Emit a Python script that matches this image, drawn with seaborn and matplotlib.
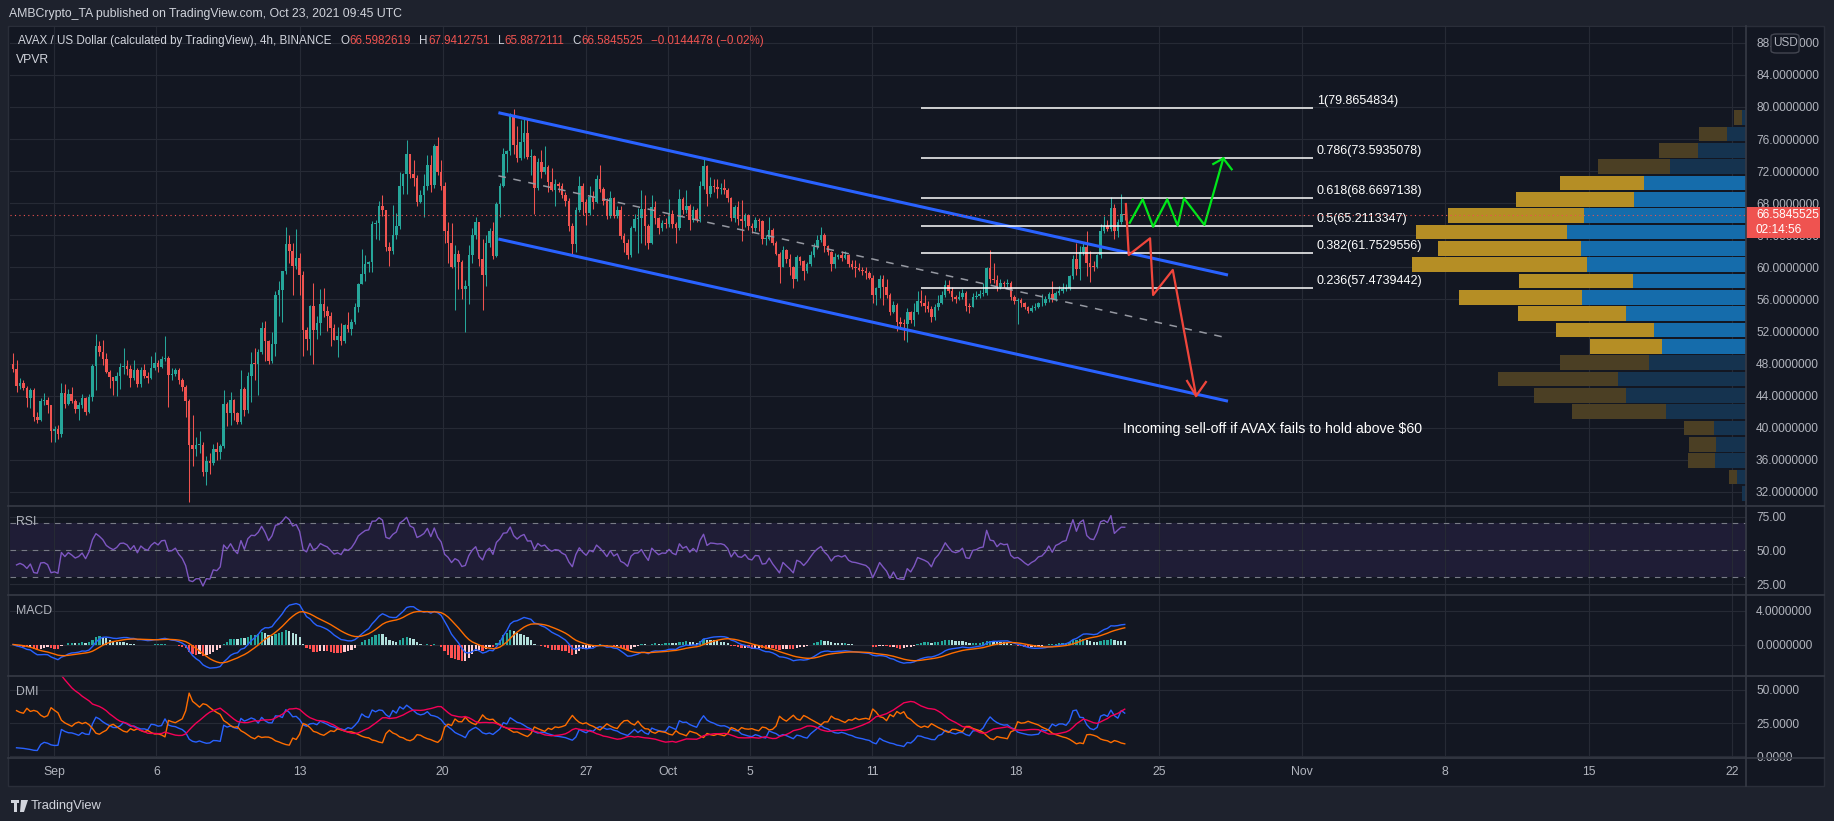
import numpy as np
import pandas as pd
import matplotlib
matplotlib.use('Agg')
import matplotlib.pyplot as plt
import seaborn as sns
from matplotlib import font_manager as fm
from matplotlib.patches import Rectangle, FancyBboxPatch, Polygon
from matplotlib.lines import Line2D

# ---------------- data (AVAX/USD 4h) ----------------
start_time = '2021-08-30 00:00'
last_time = '2021-10-23 08:00'
first_open = 48.0
close = [
    47.3, 45.2, 45.6, 45.0, 43.7, 44.7, 41.3, 41.0, 43.4, 43.5,
    42.8, 39.6, 39.8, 39.2, 44.4, 43.0, 44.2, 43.4, 42.4, 42.8,
    43.7, 42.0, 43.8, 47.7, 50.2, 49.5, 48.6, 47.0, 46.3, 45.8,
    46.4, 47.6, 47.7, 47.3, 46.2, 47.2, 45.5, 47.2, 46.5, 46.2,
    47.4, 48.1, 47.6, 48.6, 48.7, 46.6, 46.7, 47.2, 46.0, 45.1,
    43.3, 37.9, 37.4, 37.9, 37.9, 34.5, 35.8, 35.6, 37.3, 37.0,
    37.7, 43.0, 41.9, 43.5, 41.8, 40.7, 44.9, 42.2, 46.4, 48.0,
    47.9, 49.4, 52.5, 50.8, 48.3, 50.5, 56.5, 57.2, 59.5, 62.9,
    62.1, 60.2, 61.2, 59.1, 52.2, 51.1, 55.2, 52.2, 53.1, 55.4,
    54.6, 54.0, 52.5, 51.0, 51.5, 50.8, 52.8, 52.3, 53.2, 55.1,
    57.9, 59.2, 60.4, 60.7, 65.4, 65.5, 67.7, 67.1, 62.5, 62.1,
    64.0, 65.1, 70.1, 71.7, 74.1, 71.7, 71.2, 68.2, 69.0, 70.1,
    72.8, 70.3, 75.1, 71.9, 70.1, 64.6, 63.0, 60.1, 61.7, 60.7,
    57.3, 57.7, 61.5, 64.0, 65.6, 61.0, 59.0, 63.0, 64.5, 61.4,
    67.9, 70.2, 74.2, 74.5, 79.0, 75.2, 73.6, 75.6, 76.7, 73.8,
    73.9, 69.9, 73.2, 71.9, 72.5, 70.7, 69.7, 70.4, 70.2, 69.0,
    68.3, 65.2, 62.9, 67.2, 70.1, 68.2, 66.8, 68.8, 68.2, 71.0,
    69.8, 68.3, 66.4, 68.6, 66.4, 67.2, 63.9, 63.1, 61.5, 64.9,
    66.0, 66.1, 67.3, 65.1, 63.1, 67.5, 66.1, 64.9, 65.5, 65.4,
    66.7, 65.4, 64.9, 68.5, 67.1, 67.7, 65.9, 67.1, 66.0, 70.1,
    72.7, 69.1, 70.1, 70.0, 69.8, 69.9, 69.6, 68.6, 66.1, 67.5,
    66.0, 65.8, 66.5, 65.2, 64.9, 65.9, 65.8, 63.5, 63.6, 64.7,
    63.1, 61.7, 60.1, 62.2, 61.1, 60.0, 58.6, 61.3, 60.8, 59.6,
    60.4, 61.5, 62.6, 63.4, 64.0, 62.7, 61.9, 60.4, 61.3, 61.5,
    61.2, 61.5, 60.4, 60.0, 59.9, 59.7, 59.5, 59.3, 58.7, 56.5,
    57.4, 58.5, 57.5, 56.5, 54.4, 55.3, 53.2, 53.0, 52.9, 54.4,
    53.5, 54.4, 55.8, 55.5, 55.2, 54.8, 53.8, 55.0, 55.6, 56.5,
    57.8, 57.0, 56.3, 56.1, 56.3, 56.8, 55.2, 55.1, 56.3, 56.4,
    56.7, 56.8, 59.9, 58.5, 58.4, 57.5, 58.1, 57.9, 58.0, 56.3,
    55.8, 55.9, 55.5, 55.0, 54.6, 54.9, 55.1, 55.5, 55.6, 56.0,
    56.7, 56.0, 56.8, 57.0, 57.3, 57.4, 58.9, 61.0, 59.8, 61.9,
    62.6, 60.6, 60.1, 60.0, 61.5, 64.6, 65.1, 64.8, 67.4, 64.5,
    65.6, 66.6, 66.5845525,
]
high = [
    49.3, 48.4, 46.2, 46.0, 45.2, 45.0, 45.0, 42.0, 43.7, 44.4,
    43.9, 42.9, 40.2, 40.4, 45.6, 45.4, 44.8, 45.1, 43.6, 43.2,
    44.2, 43.9, 44.2, 47.9, 51.7, 50.8, 51.0, 49.3, 47.2, 46.3,
    46.9, 48.1, 49.9, 48.5, 47.8, 48.4, 47.4, 47.6, 48.0, 46.9,
    49.0, 49.4, 48.5, 49.0, 51.5, 48.9, 47.4, 47.5, 47.4, 46.2,
    45.3, 43.6, 41.6, 38.9, 39.6, 38.2, 36.5, 36.9, 38.0, 38.2,
    38.0, 44.7, 43.2, 44.5, 43.6, 42.0, 47.2, 45.1, 47.0, 49.4,
    50.0, 49.8, 53.2, 53.3, 51.0, 51.9, 57.1, 58.3, 59.6, 65.0,
    64.0, 63.1, 64.8, 61.8, 59.5, 52.6, 55.3, 58.0, 54.0, 57.3,
    57.4, 55.2, 54.4, 52.9, 52.6, 53.1, 52.9, 54.4, 53.6, 55.5,
    58.0, 62.3, 61.6, 60.8, 65.8, 65.9, 68.3, 69.0, 67.2, 63.2,
    67.8, 66.8, 71.9, 71.8, 75.9, 74.2, 73.4, 71.5, 69.6, 71.6,
    74.0, 74.0, 75.4, 76.3, 73.4, 70.6, 65.6, 65.5, 62.8, 62.2,
    60.9, 58.4, 62.8, 64.9, 66.3, 65.7, 63.5, 64.0, 64.9, 65.6,
    68.2, 70.5, 74.9, 74.7, 79.3, 79.7, 77.6, 78.4, 78.6, 78.6,
    74.8, 74.0, 73.6, 74.7, 75.1, 72.8, 72.4, 71.0, 70.6, 70.5,
    69.4, 68.6, 65.5, 67.5, 71.4, 70.5, 68.5, 70.2, 69.5, 71.5,
    72.8, 70.0, 68.6, 69.5, 68.8, 67.6, 67.6, 64.3, 63.6, 65.2,
    66.7, 67.4, 69.6, 69.0, 65.4, 69.0, 68.3, 66.3, 65.9, 66.1,
    68.5, 67.2, 65.6, 69.8, 68.8, 69.6, 67.9, 67.7, 67.4, 70.8,
    73.5, 72.8, 71.3, 71.0, 71.0, 70.5, 71.0, 69.9, 68.8, 67.8,
    68.3, 68.4, 66.8, 66.7, 65.5, 66.3, 66.2, 65.9, 64.0, 66.3,
    64.9, 63.3, 61.9, 62.7, 62.3, 61.7, 60.2, 61.6, 61.4, 60.9,
    60.7, 62.0, 63.0, 64.0, 65.0, 64.3, 62.8, 62.1, 61.8, 61.7,
    62.1, 62.1, 61.7, 60.9, 60.9, 60.6, 60.0, 60.0, 59.5, 59.1,
    57.6, 59.0, 59.0, 58.5, 56.8, 55.8, 55.5, 53.8, 53.6, 54.9,
    54.6, 55.6, 57.0, 57.2, 56.6, 55.8, 55.2, 55.4, 56.6, 57.1,
    58.4, 58.4, 57.6, 56.6, 57.1, 57.3, 57.0, 55.6, 56.8, 57.1,
    57.2, 58.1, 60.1, 62.2, 60.5, 59.0, 58.6, 58.3, 58.6, 58.3,
    56.6, 56.2, 56.2, 55.7, 55.2, 55.3, 55.5, 55.7, 56.7, 56.4,
    56.9, 58.3, 57.1, 57.7, 58.0, 57.9, 59.0, 61.5, 63.0, 62.7,
    63.1, 64.6, 62.1, 60.8, 61.7, 65.4, 66.4, 65.9, 68.75, 67.9,
    66.0, 69.2, 67.9412751,
]
low = [
    47.0, 44.5, 44.9, 44.7, 42.6, 42.5, 40.8, 40.6, 40.8, 42.8,
    41.8, 38.2, 38.2, 38.6, 38.9, 42.5, 42.8, 43.1, 41.9, 41.0,
    42.5, 41.6, 41.8, 43.4, 44.7, 49.0, 47.8, 46.8, 45.0, 44.1,
    44.0, 44.9, 46.7, 46.6, 45.1, 46.0, 45.1, 45.1, 46.2, 45.6,
    46.1, 47.2, 46.9, 47.4, 48.3, 42.6, 46.0, 46.5, 45.5, 44.6,
    41.3, 30.8, 35.2, 36.5, 36.8, 34.0, 32.9, 34.2, 35.4, 36.0,
    36.1, 37.5, 40.2, 40.4, 41.0, 40.5, 40.5, 41.5, 41.9, 43.2,
    46.0, 44.1, 49.2, 48.3, 47.9, 48.1, 49.0, 54.0, 53.2, 59.2,
    60.5, 56.5, 59.8, 56.5, 49.0, 49.7, 49.1, 47.9, 51.1, 51.6,
    53.8, 52.1, 50.2, 50.9, 48.8, 50.3, 50.6, 52.0, 51.6, 52.9,
    54.4, 58.0, 58.3, 59.4, 59.4, 63.5, 63.4, 66.4, 62.1, 60.2,
    61.7, 63.6, 64.8, 69.2, 69.2, 71.2, 70.1, 67.7, 68.0, 66.3,
    69.6, 69.4, 69.9, 71.5, 69.6, 63.1, 60.6, 59.9, 54.7, 57.3,
    56.1, 52.0, 55.4, 60.6, 63.6, 60.2, 54.7, 57.7, 62.5, 61.0,
    61.3, 66.3, 70.0, 71.9, 74.0, 74.1, 73.1, 73.4, 73.6, 73.5,
    71.5, 66.7, 69.6, 71.2, 71.6, 69.4, 69.5, 67.6, 69.4, 68.6,
    67.7, 64.6, 61.6, 61.9, 66.9, 66.5, 65.3, 66.5, 67.3, 68.0,
    69.4, 67.8, 66.0, 66.1, 66.1, 66.1, 63.6, 61.9, 61.1, 61.3,
    64.5, 61.8, 63.0, 62.8, 62.3, 62.9, 65.4, 64.2, 64.6, 64.9,
    65.0, 64.9, 63.0, 64.7, 66.6, 66.8, 64.7, 65.6, 65.6, 65.6,
    69.8, 67.6, 68.8, 69.4, 68.6, 69.2, 69.1, 68.1, 65.8, 65.7,
    65.3, 63.3, 65.0, 64.7, 64.3, 64.6, 64.5, 62.9, 62.8, 63.4,
    62.8, 61.6, 58.1, 60.0, 60.5, 59.0, 57.4, 58.3, 60.3, 58.4,
    59.3, 60.2, 61.3, 62.3, 63.2, 61.9, 61.6, 59.6, 59.9, 61.1,
    60.8, 61.0, 60.0, 59.8, 58.8, 59.5, 59.1, 58.6, 58.5, 55.5,
    55.3, 56.2, 55.3, 56.2, 54.1, 54.3, 52.1, 52.3, 51.0, 50.7,
    53.1, 52.7, 54.2, 55.2, 54.4, 54.5, 53.2, 53.5, 54.7, 55.4,
    56.3, 56.8, 55.8, 55.6, 55.9, 56.1, 54.6, 54.3, 55.5, 56.0,
    56.2, 56.4, 56.5, 58.1, 58.0, 57.1, 57.3, 57.5, 57.6, 55.9,
    55.4, 53.0, 55.1, 54.8, 54.3, 54.4, 54.7, 54.9, 55.2, 55.3,
    55.7, 55.7, 55.8, 56.5, 56.8, 57.0, 57.2, 58.6, 59.0, 58.4,
    61.5, 58.9, 58.2, 59.5, 59.9, 61.2, 64.3, 64.6, 64.6, 63.6,
    63.8, 65.4, 65.8872111,
]
last_price = 66.5845525

# Fibonacci retracement
fib_ratios = [1, 0.786, 0.618, 0.5, 0.382, 0.236]
fib_levels = [79.8654834, 73.5935078, 68.6697138, 65.2113347, 61.7529556, 57.4739442]
fib_span_days = [42.38, 61.53]           # days from Sep 1

# parallel channel (days from Sep 1, price)
channel_days = [21.72, 57.38]
channel_upper = [79.29, 59.05]
channel_lower = [63.54, 43.32]
channel_mid = [71.42, 51.19]

# scenario drawings (days from Sep 1, price)
green_days = [52.58, 53.21, 53.72, 54.41, 54.92, 55.23, 56.23, 57.15]
green_price = [65.57, 68.49, 65.07, 68.49, 65.20, 68.62, 65.29, 73.60]
green_head_days = [56.66, 57.15, 57.56]
green_head_price = [72.89, 73.60, 72.23]
red_days = [52.39, 52.53, 53.57, 53.72, 54.68, 55.82]
red_price = [67.90, 61.55, 63.63, 56.56, 59.68, 43.97]
red_head_days = [55.38, 55.82, 56.30]
red_head_price = [45.84, 43.97, 45.71]

# Visible range volume profile (24 rows, bottom -> top)
vp_up = [4, 9, 31, 30, 32, 80, 120, 128, 97, 84, 92, 120, 164, 113, 159, 165, 179, 162, 112, 102, 76, 48, 19, 4]
vp_down = [0, 8, 27, 27, 30, 94, 92, 120, 89, 72, 98, 108, 123, 114, 175, 143, 151, 136, 118, 84, 72, 39, 28, 8]
value_area = (9, 19)

date_ticks = ['2021-09-01', '2021-09-06', '2021-09-13', '2021-09-20', '2021-09-27', '2021-10-01',
              '2021-10-05', '2021-10-11', '2021-10-18', '2021-10-25', '2021-11-01', '2021-11-08',
              '2021-11-15', '2021-11-22']
date_labels = ['Sep', '6', '13', '20', '27', 'Oct', '5', '11', '18', '25', 'Nov', '8', '15', '22']
price_ticks = list(range(32, 89, 4))
rsi_ticks = [25, 50, 75]
macd_ticks = [0, 4]
dmi_ticks = [0, 25, 50]

# ---------------- styling ----------------
W, H = 1834, 821
BG = '#131722'
OUTER = '#1e222d'
GRID = '#262a35'
SEP = '#363a45'
TXT = '#b2b5be'
UPC = '#26a69a'
DNC = '#ef5350'

avail = {f.name for f in fm.fontManager.ttflist}
FONT = 'DejaVu Sans'
for cand in ['Liberation Sans Narrow', 'Liberation Sans', 'DejaVu Sans']:
    if cand in avail:
        FONT = cand
        break
plt.rcParams['font.family'] = [FONT, 'DejaVu Sans']

sep1 = pd.Timestamp('2021-09-01')
times = pd.date_range(start_time, last_time, periods=len(close))
t = ((times - sep1) / pd.Timedelta('1D')).values
tick_t = [((pd.Timestamp(d) - sep1) / pd.Timedelta('1D')) for d in date_ticks]

PXD = 20.46          # pixels per day
X0 = 54.0            # pixel of Sep 1
XL = (10 - X0) / PXD
XR = (1746 - X0) / PXD

c = np.array(close)
o = np.r_[first_open, c[:-1]]
hi = np.maximum(np.array(high), np.maximum(o, c))
lo = np.minimum(np.array(low), np.minimum(o, c))

fig = plt.figure(figsize=(W / 100, H / 100), dpi=100, facecolor=OUTER)
fig.add_artist(Rectangle((8 / W, 1 - 786 / H), (1824 - 8) / W, (786 - 26) / H,
                         transform=fig.transFigure, facecolor=BG, edgecolor='#2a2e39',
                         lw=1, zorder=-10))


def pane(y0, y1, ylim, yticks, ylabels):
    ax = fig.add_axes([10 / W, 1 - y1 / H, 1736 / W, (y1 - y0) / H])
    ax.set_facecolor(BG)
    for s in ax.spines.values():
        s.set_visible(False)
    ax.set_xticks(tick_t)
    ax.set_xticklabels([])
    ax.yaxis.tick_right()
    ax.set_yticks(yticks)
    ax.set_yticklabels(ylabels)
    ax.tick_params(axis='y', length=0, pad=7.2, labelsize=8.6, labelcolor=TXT)
    ax.tick_params(axis='x', length=0, labelbottom=False)
    ax.grid(True, color=GRID, lw=0.8)
    ax.set_axisbelow(True)
    ax.set_xlim(XL, XR)
    ax.set_ylim(*ylim)
    return ax


P_LIM = (80 - (506 - 107) / 8.02, 80 + (107 - 27) / 8.02)
ax_p = pane(27, 506, P_LIM, price_ticks, [f'{v:.7f}' for v in price_ticks])
ax_r = pane(506, 595, (16.85, 82.8), rsi_ticks, [f'{v:.2f}' for v in rsi_ticks])
ax_m = pane(595, 676, (-3.76, 5.91), macd_ticks, [f'{v:.7f}' for v in macd_ticks])
ax_d = pane(676, 758, (-1.5, 60.6), dmi_ticks, [f'{v:.4f}' for v in dmi_ticks])
ax_d.tick_params(axis='x', labelbottom=True, pad=5.5, labelsize=8.8, labelcolor=TXT)
ax_d.set_xticklabels(date_labels)

# ---------------- candles ----------------
cols = np.where(c >= o, UPC, DNC)
ax_p.vlines(t, lo, hi, colors=cols, lw=0.75, zorder=3)
body_lo = np.minimum(o, c)
body_h = np.maximum(np.abs(c - o), 0.12)
ax_p.bar(t, body_h, bottom=body_lo, width=0.125, color=cols, lw=0, zorder=4)

# channel
ax_p.plot(channel_days, channel_upper, color='#2962ff', lw=2.2, zorder=5, solid_capstyle='butt')
ax_p.plot(channel_days, channel_lower, color='#2962ff', lw=2.2, zorder=5, solid_capstyle='butt')
ax_p.plot(channel_days, channel_mid, color='#9598a1', lw=1.1, ls=(0, (5, 5)), zorder=5)

# fib
ax_p.hlines(fib_levels, fib_span_days[0], fib_span_days[1], color='white', lw=1.1, zorder=5)
for r, lvl in zip(fib_ratios, fib_levels):
    ax_p.annotate(f'{r:g}({lvl:.7f})', xy=(fib_span_days[1], lvl), xytext=(4, 7),
                  textcoords='offset pixels', color='white', fontsize=9, va='center', ha='left')

# scenario arrows
ax_p.plot(green_days, green_price, color='#00e61a', lw=1.6, zorder=6)
ax_p.plot(green_head_days, green_head_price, color='#00e61a', lw=1.6, zorder=6)
ax_p.plot(red_days, red_price, color='#f0463c', lw=1.6, zorder=6)
ax_p.plot(red_head_days, red_head_price, color='#f0463c', lw=1.6, zorder=6)

ax_p.text(52.25, 39.85, 'Incoming sell-off if AVAX fails to hold above $60', color='white',
          fontsize=10.2, va='center', ha='left', zorder=7)

# ---------------- volume profile overlay ----------------
ax_v = fig.add_axes([10 / W, 1 - 506 / H, 1736 / W, (506 - 27) / H])
ax_v.patch.set_alpha(0)
ax_v.axis('off')
ax_v.set_xlim(1736, 0)
ax_v.set_ylim(*P_LIM)
edges = np.linspace(lo.min(), hi.max(), len(vp_up) + 1)
rh = edges[1] - edges[0]
centers = edges[:-1] + rh / 2
in_va = [value_area[0] <= i <= value_area[1] for i in range(len(vp_up))]
ax_v.barh(centers, vp_up, height=rh * 0.9, left=0,
          color=['#156cab' if v else '#15334f' for v in in_va], lw=0)
ax_v.barh(centers, vp_down, height=rh * 0.9, left=vp_up,
          color=['#b58e25' if v else '#4b3f24' for v in in_va], lw=0)
ax_v.axhline(last_price, color=DNC, lw=0.8, ls=(0, (1, 3)))


# ---------------- indicators ----------------
def rma(x, n=14):
    """Wilder moving average, seeded with the mean of the first n valid values."""
    x = np.asarray(x, dtype=float)
    out = np.full_like(x, np.nan)
    valid = x[~np.isnan(x)]
    prev = valid[:n].mean()
    for i, v in enumerate(x):
        if np.isnan(v):
            continue
        prev = prev + (v - prev) / n
        out[i] = prev
    return out


s = pd.Series(c)
d = s.diff()
gain = d.clip(lower=0).values
loss = (-d.clip(upper=0)).values
rs = rma(gain) / rma(loss)
rsi = 100 - 100 / (1 + rs)

ax_r.axhspan(30, 70, color='#1f1d36', lw=0, zorder=0.5)
for lv in (70, 50, 30):
    ax_r.axhline(lv, color='#787b86', lw=0.8, ls=(0, (5, 5)), zorder=1)
sns.lineplot(x=t[1:], y=rsi[1:], ax=ax_r, color='#7e57c2', lw=1.0, estimator=None, zorder=3)

ema12 = s.ewm(span=12, adjust=False).mean()
ema26 = s.ewm(span=26, adjust=False).mean()
macd = ema12 - ema26
sig = macd.ewm(span=9, adjust=False).mean()
hist = macd - sig
prev = hist.shift().fillna(0)
hcol = np.where(hist >= 0, np.where(hist >= prev, '#26a69a', '#b2dfdb'),
                np.where(hist < prev, '#ff5252', '#ffcdd2'))
ax_m.bar(t, hist.values, width=0.11, color=hcol, lw=0, zorder=2)
sns.lineplot(x=t, y=macd.values, ax=ax_m, color='#2962ff', lw=1.0, estimator=None, zorder=3)
sns.lineplot(x=t, y=sig.values, ax=ax_m, color='#ff6d00', lw=1.0, estimator=None, zorder=3)

hs = pd.Series(hi)
ls_ = pd.Series(lo)
upm = hs.diff()
dnm = -ls_.diff()
pdm = np.where((upm > dnm) & (upm > 0), upm, 0.0)
mdm = np.where((dnm > upm) & (dnm > 0), dnm, 0.0)
pc = s.shift()
tr = pd.concat([hs - ls_, (hs - pc).abs(), (ls_ - pc).abs()], axis=1).max(axis=1).values
atr = rma(tr)
pdi = 100 * rma(pdm) / atr
mdi = 100 * rma(mdm) / atr
dx = 100 * np.abs(pdi - mdi) / (pdi + mdi)
adx = rma(dx)
sns.lineplot(x=t[1:], y=pdi[1:], ax=ax_d, color='#2962ff', lw=1.0, estimator=None, zorder=3)
sns.lineplot(x=t[1:], y=mdi[1:], ax=ax_d, color='#ff6d00', lw=1.0, estimator=None, zorder=3)
sns.lineplot(x=t[1:], y=adx[1:], ax=ax_d, color='#f50057', lw=1.0, estimator=None, zorder=3)

for ax in (ax_p, ax_r, ax_m, ax_d):
    ax.set_xlim(XL, XR)
    ax.set_xlabel('')
    ax.set_ylabel('')
ax_p.set_ylim(*P_LIM)


# ---------------- frame, separators and labels ----------------
def fx(x):
    return x / W


def fy(y):
    return 1 - y / H


for yy in (506, 595, 676, 758):
    fig.add_artist(Line2D([fx(8), fx(1824)], [fy(yy), fy(yy)], color=SEP, lw=1.2))
fig.add_artist(Line2D([fx(1746), fx(1746)], [fy(26), fy(786)], color=SEP, lw=1.2))

# price label
fig.add_artist(Rectangle((fx(1746), fy(238)), 74 / W, 31 / H, transform=fig.transFigure,
                         facecolor='#ef5350', lw=0))
fig.text(fx(1756), fy(215), '66.5845525', color='white', fontsize=8.6, va='center')
fig.text(fx(1756), fy(230), '02:14:56', color='white', fontsize=8.6, va='center')

# USD badge
fig.add_artist(FancyBboxPatch((fx(1771), fy(53)), 28 / W, 19 / H,
                              boxstyle='round,pad=0,rounding_size=0.003', transform=fig.transFigure,
                              facecolor=BG, edgecolor='#434651', lw=1))
fig.text(fx(1785), fy(43), 'USD', color=TXT, fontsize=8.5, va='center', ha='center')

# header
fig.text(fx(9), fy(14), 'AMBCrypto_TA published on TradingView.com, Oct 23, 2021 09:45 UTC',
         color='#d1d4dc', fontsize=8.8, va='center')

renderer = fig.canvas.get_renderer()
pieces = [('AVAX / US Dollar (calculated by TradingView), 4h, BINANCE', '#d1d4dc', 9),
          ('O', '#d1d4dc', 0.5), ('66.5982619', DNC, 8),
          ('H', '#d1d4dc', 0.5), ('67.9412751', DNC, 8),
          ('L', '#d1d4dc', 0.5), ('65.8872111', DNC, 8),
          ('C', '#d1d4dc', 0.5), ('66.5845525', DNC, 8),
          ('\u22120.0144478 (\u22120.02%)', DNC, 0)]
xcur = 18.0
for txt, col, gap in pieces:
    tt = fig.text(fx(xcur), fy(41), txt, color=col, fontsize=8.4, va='center')
    xcur += tt.get_window_extent(renderer=renderer).width + gap

fig.text(fx(16), fy(60), 'VPVR', color='#d1d4dc', fontsize=8.8, va='center')
fig.text(fx(16), fy(522), 'RSI', color=TXT, fontsize=8.8, va='center')
fig.text(fx(16), fy(611), 'MACD', color=TXT, fontsize=8.8, va='center')
fig.text(fx(16), fy(692), 'DMI', color=TXT, fontsize=8.8, va='center')

# TradingView logo
fig.add_artist(Rectangle((fx(11), fy(803)), 8 / W, 3 / H, transform=fig.transFigure,
                         facecolor='#d1d4dc', lw=0))
fig.add_artist(Rectangle((fx(14), fy(812)), 3 / W, 9 / H, transform=fig.transFigure,
                         facecolor='#d1d4dc', lw=0))
fig.add_artist(Polygon([(fx(21), fy(800)), (fx(28), fy(800)), (fx(24), fy(812)), (fx(20), fy(812))],
                       closed=True, transform=fig.transFigure, facecolor='#d1d4dc', lw=0))
fig.text(fx(31), fy(806), 'TradingView', color='#d1d4dc', fontsize=9.3, va='center')

fig.savefig('out.png', dpi=100, facecolor=fig.get_facecolor())
